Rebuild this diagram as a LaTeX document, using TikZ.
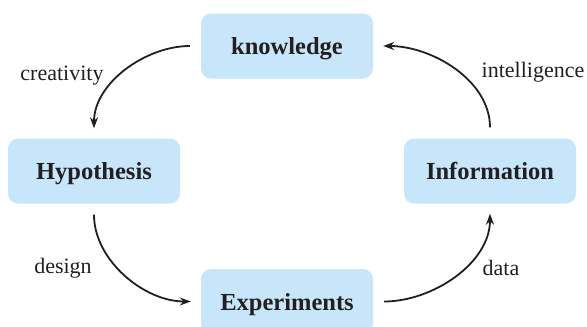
\documentclass[tikz,border=0pt]{standalone}
\usepackage{fontspec}
\setmainfont{Liberation Serif}
\usetikzlibrary{arrows.meta}
\definecolor{boxblue}{RGB}{200,230,249}
\definecolor{inkgray}{RGB}{35,31,32}
\begin{document}
\begin{tikzpicture}[x=1pt, y=-1pt,
    box/.style={fill=boxblue, rounded corners=10pt, minimum width=172pt, minimum height=65pt,
        text height=17pt, text depth=0pt,
        font=\fontsize{24.5}{28}\selectfont\bfseries, text=inkgray},
    lab/.style={font=\fontsize{22}{26}\selectfont, text=inkgray},
    arr/.style={-{Stealth[length=11pt, width=8pt]}, line width=1.8pt, inkgray,
        shorten <=11pt, shorten >=10pt}]
\useasboundingbox (0,0) rectangle (587,327);
\clip (0,0) rectangle (587,327);
% boxes
\node[box] (know) at (287,46)    {knowledge};
\node[box] (hyp)  at (94,171)    {Hypothesis};
\node[box] (info) at (490,171)   {Information};
\node[box] (exp)  at (287,301.5) {Experiments};
% cycle
\draw[arr] (know.west) to[out=180, in=90] (hyp.north);
\draw[arr] (hyp.south) to[out=-90, in=180] (exp.west);
\draw[arr] (exp.east) to[out=0, in=-90] (info.south);
\draw[arr] (info.north) to[out=90, in=0] (know.east);
% labels
\node[lab] (lcre) at (62,76)   {creativity};
\node[lab] (lint) at (533,72)  {intelligence};
\node[lab] (ldes) at (63,268)  {design};
\node[lab] (ldat) at (501,268) {data};
\end{tikzpicture}
\end{document}
